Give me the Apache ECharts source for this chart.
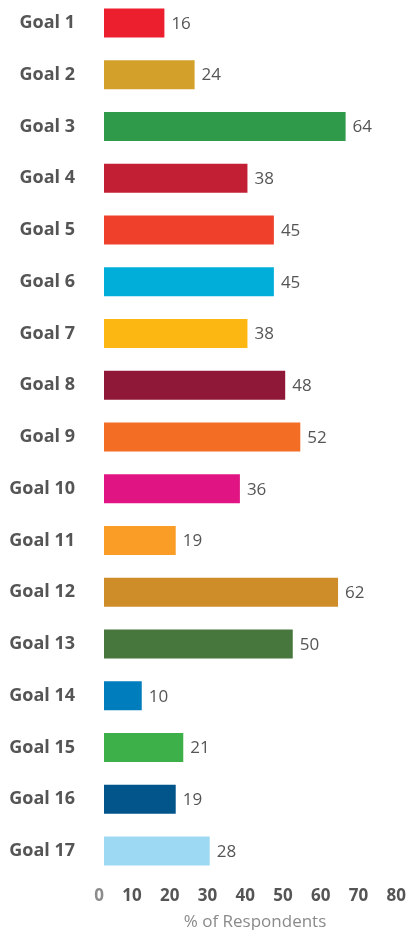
<!DOCTYPE html>
<html>
<head>
<meta charset="utf-8">
<script src="https://cdn.jsdelivr.net/npm/echarts@6/dist/echarts.min.js"></script>
<style>html,body{margin:0;padding:0;background:#fff;}#c{width:409px;height:930px;}</style>
</head>
<body>
<div id="c"></div>
<script>
const categories = ['Goal 1','Goal 2','Goal 3','Goal 4','Goal 5','Goal 6','Goal 7','Goal 8','Goal 9','Goal 10','Goal 11','Goal 12','Goal 13','Goal 14','Goal 15','Goal 16','Goal 17'];
const values = [16,24,64,38,45,45,38,48,52,36,19,62,50,10,21,19,28];
const colors = ['#EC1F2E','#D3A02A','#2E9A4A','#C21F35','#EF402B','#00AED9','#FDB713','#8F1838','#F36D25','#E11484','#F99D26','#CF8D2A','#48773E','#007DBC','#3EB049','#02558B','#9DD9F3'];
const xTicks = [0,10,20,30,40,50,60,70,80];
const axisTitle = '% of Respondents';

const chart = echarts.init(document.getElementById('c'));
chart.setOption({
  animation: false,
  grid: { left: 104, right: 3, top: -3, height: 880, outerBoundsMode: 'none', containLabel: false },
  xAxis: {
    type: 'value', min: xTicks[0], max: xTicks[xTicks.length-1], interval: 10,
    splitLine: { show: false }, axisLine: { show: false }, axisTick: { show: false },
    axisLabel: {
      align: 'right', margin: 11,
      fontFamily: 'Open Sans', fontSize: 17, fontWeight: 'bold', color: '#555',
      formatter: v => v === 0 ? '{z|0}' : String(v),
      rich: { z: { fontFamily: 'Open Sans', fontSize: 17, fontWeight: 'bold', color: '#8c8c8c' } }
    },
    name: axisTitle, nameLocation: 'middle', nameGap: 37,
    nameTextStyle: { fontFamily: 'Open Sans', fontSize: 17, color: '#8a8a8a' }
  },
  yAxis: {
    type: 'category', data: categories, inverse: true,
    axisLine: { show: false }, axisTick: { show: false },
    axisLabel: { margin: 29, fontFamily: 'Open Sans', fontSize: 18, fontWeight: 'bold', color: '#555' }
  },
  series: [{
    type: 'bar', barWidth: 29,
    data: values.map((v, i) => ({ value: v, itemStyle: { color: colors[i] } })),
    label: { show: true, position: 'right', distance: 7, offset: [0, 1],
      fontFamily: 'Open Sans', fontSize: 17, color: '#555' }
  }]
});
</script>
</body>
</html>
